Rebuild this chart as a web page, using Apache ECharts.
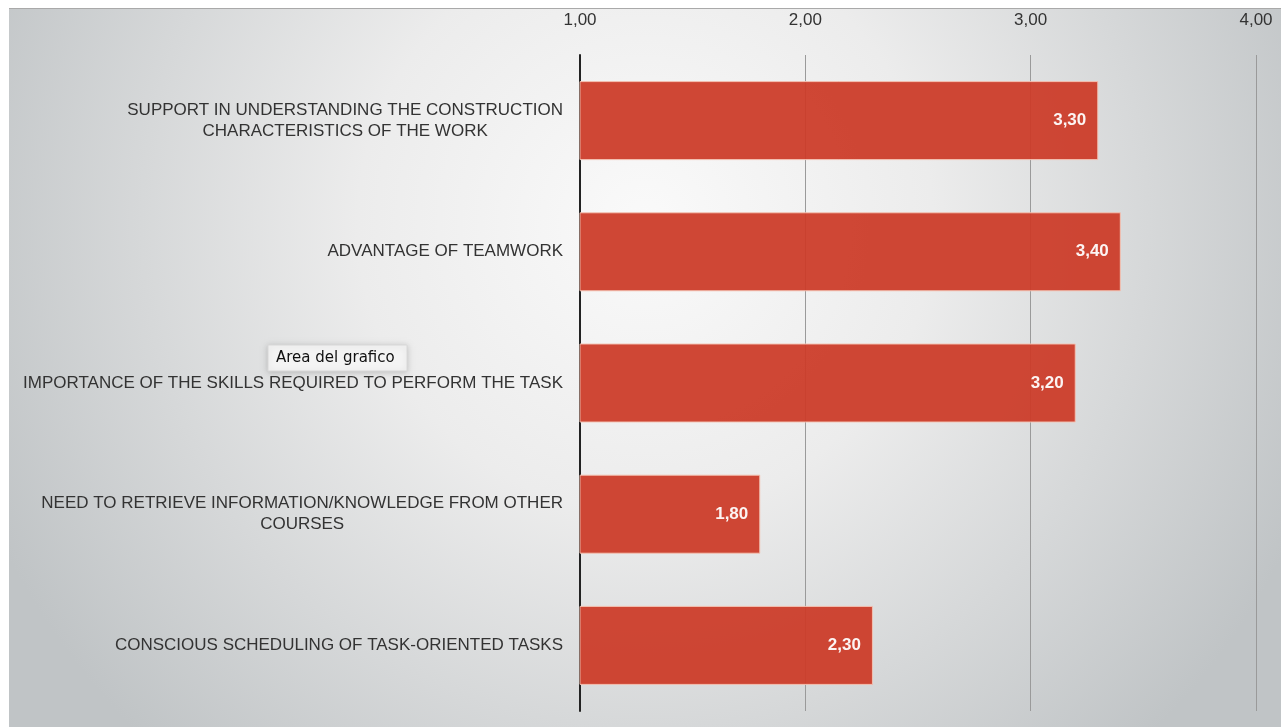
<!DOCTYPE html>
<html>
<head>
<meta charset="utf-8">
<script src="https://cdn.jsdelivr.net/npm/echarts@6/dist/echarts.min.js"></script>
<style>
  html, body { margin: 0; padding: 0; background: #ffffff; }
  #chart { width: 1281px; height: 727px; }
</style>
</head>
<body>
<div id="chart"></div>
<script>
// Survey items (top to bottom) and their mean scores
const categories = [
  'SUPPORT IN UNDERSTANDING THE CONSTRUCTION\nCHARACTERISTICS OF THE WORK',
  'ADVANTAGE OF TEAMWORK',
  'IMPORTANCE OF THE SKILLS REQUIRED TO PERFORM THE TASK',
  'NEED TO RETRIEVE INFORMATION/KNOWLEDGE FROM OTHER\nCOURSES',
  'CONSCIOUS SCHEDULING OF TASK-ORIENTED TASKS'
];
const scores = [3.30, 3.40, 3.20, 1.80, 2.30];
const axisTicks = [1, 2, 3, 4];

const fmt = v => v.toFixed(2).replace('.', ',');

const chart = echarts.init(document.getElementById('chart'), null, { renderer: 'canvas' });

chart.setOption({
  animation: false,
  textStyle: { fontFamily: '"Liberation Sans", Arial, Helvetica, sans-serif' },
  graphic: [
    {
      type: 'rect', z: -10, silent: true,
      shape: { x: 9, y: 8, width: 1272, height: 719 },
      style: {
        fill: {
          type: 'radial', x: 0.5, y: 0.3, r: 1.0,
          colorStops: [
            { offset: 0, color: '#fafafa' },
            { offset: 0.4, color: '#ececec' },
            { offset: 1, color: '#c0c4c6' }
          ]
        }
      }
    },
    {
      type: 'line', z: -9, silent: true,
      shape: { x1: 9, y1: 8.5, x2: 1281, y2: 8.5 },
      style: { stroke: '#a9a9a9', lineWidth: 1 }
    },
    {
      type: 'group', z: 100, silent: true,
      children: [
        {
          type: 'rect',
          shape: { x: 268, y: 345, width: 139, height: 26 },
          style: {
            fill: '#f4f4f4', stroke: '#d8d8d8', lineWidth: 1,
            shadowBlur: 6, shadowColor: 'rgba(0,0,0,0.18)', shadowOffsetY: 1
          }
        },
        {
          type: 'text',
          x: 276, y: 358,
          style: {
            text: 'Area del grafico',
            fill: '#111111',
            font: '15px "DejaVu Sans", "Noto Sans", sans-serif',
            verticalAlign: 'middle'
          }
        }
      ]
    }
  ],
  grid: { left: 580, right: 25, top: 55, bottom: 16 },
  xAxis: {
    type: 'value',
    position: 'top',
    min: axisTicks[0],
    max: axisTicks[axisTicks.length - 1],
    interval: 1,
    axisLine: { show: false },
    axisTick: { show: false },
    axisLabel: {
      formatter: v => fmt(v),
      color: '#333333',
      fontSize: 17,
      margin: 26
    },
    splitLine: { lineStyle: { color: '#9a9a9a', width: 1 } }
  },
  yAxis: {
    type: 'category',
    inverse: true,
    data: categories,
    axisLine: { show: true, lineStyle: { color: '#222222', width: 2 } },
    axisTick: { show: false },
    axisLabel: {
      margin: 17,
      fontSize: 17,
      color: '#333333',
      lineHeight: 21,
      formatter: v => v.split('\n').map(s => '{c|' + s + '}').join('\n'),
      rich: {
        c: { align: 'center', fontSize: 17, color: '#333333', lineHeight: 21 }
      }
    }
  },
  series: [{
    type: 'bar',
    data: scores,
    barWidth: 79,
    itemStyle: {
      color: '#cc3b28',
      opacity: 0.94,
      borderColor: '#f4c4b4',
      borderWidth: 1
    },
    label: {
      show: true,
      position: 'insideRight',
      distance: 12,
      formatter: p => fmt(p.value),
      color: '#ffffff',
      fontWeight: 'bold',
      fontSize: 17
    }
  }]
});
</script>
</body>
</html>
